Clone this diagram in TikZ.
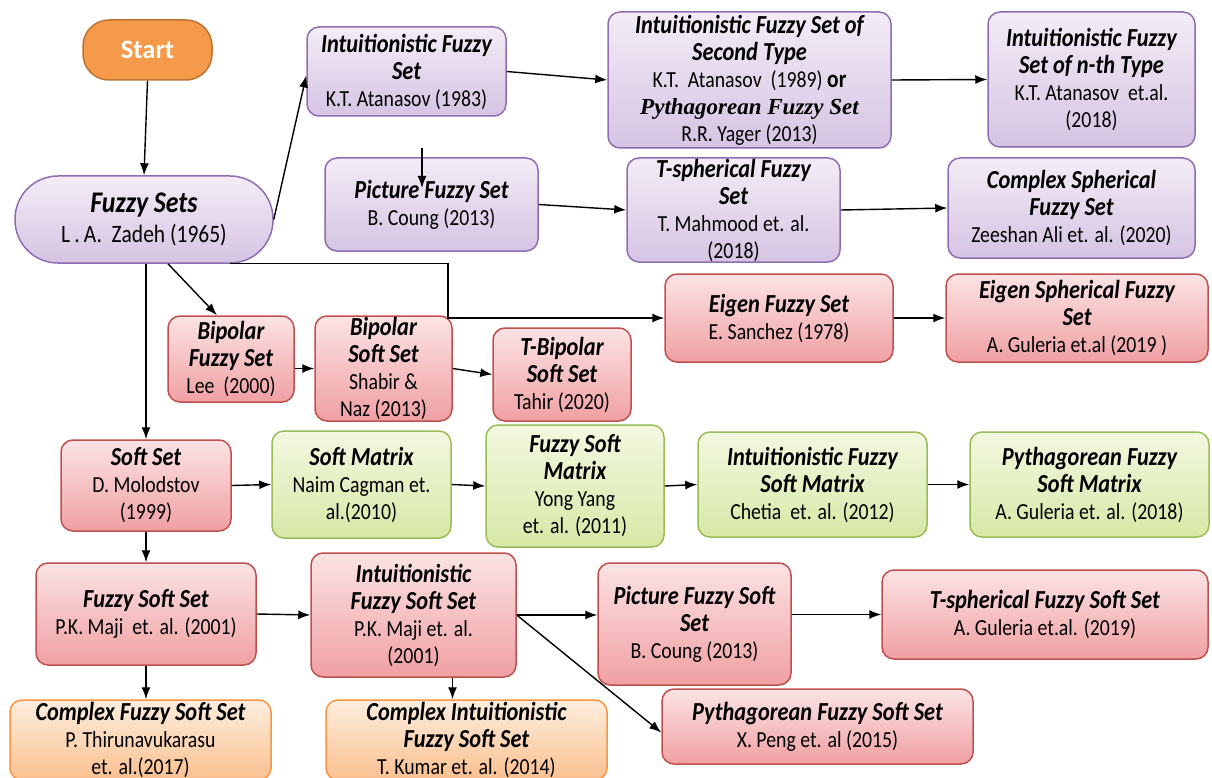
\documentclass[tikz,border=0pt]{standalone}
\usepackage{fontspec}
\usetikzlibrary{arrows.meta}
\setmainfont{Carlito}
\newfontfamily\aufam{Carlito}[FakeStretch=0.86]
\newfontfamily\tmfam{Liberation Serif}
\newcommand\ti[1]{{\fontsize{26}{27}\selectfont\bfseries\itshape #1}}
\newcommand\au{\aufam\fontsize{23}{27}\selectfont}
\definecolor{purpT}{HTML}{F3ECF6}
\definecolor{purpB}{HTML}{D5C4E3}
\definecolor{purpD}{HTML}{8F6DB3}
\definecolor{redT}{HTML}{FBE3E4}
\definecolor{redB}{HTML}{F0A0A3}
\definecolor{redD}{HTML}{C0504D}
\definecolor{grnT}{HTML}{F2F8E0}
\definecolor{grnB}{HTML}{D7E8A6}
\definecolor{grnD}{HTML}{9BBB59}
\definecolor{orgT}{HTML}{FDEEDF}
\definecolor{orgB}{HTML}{FAC08F}
\definecolor{orgD}{HTML}{F79646}
\definecolor{startF}{HTML}{F59A4A}
\definecolor{startD}{HTML}{BD7431}
\tikzset{
  box/.style={draw, rounded corners=12pt, line width=1.5pt, align=center, inner sep=0pt, font=\au},
  wh/.style 2 args={minimum width=#1pt, minimum height=#2pt},
  pbox/.style={box, draw=purpD, top color=purpT, bottom color=purpB},
  rbox/.style={box, draw=redD, top color=redT, bottom color=redB},
  gbox/.style={box, draw=grnD, top color=grnT, bottom color=grnB},
  obox/.style={box, draw=orgD, top color=orgT, bottom color=orgB},
  arr/.style={-{Latex[length=12pt,width=9pt]}, line width=1.4pt, black},
}
\begin{document}
\begin{tikzpicture}[x=1pt,y=-1pt]
\useasboundingbox[fill=white] (0,0) rectangle (1212,778);
% nodes
\node[box, draw=startD, fill=startF, rounded corners=26pt, wh={129}{60}, text=white, font=\fontsize{26.5}{27}\selectfont\bfseries] (start) at (147.5,50) {Start};
\node[pbox, rounded corners=43pt, wh={258}{87}] (fs) at (144,219.5) {{\fontsize{30}{32}\selectfont\bfseries\itshape Fuzzy Sets}\\[3pt]{\fontsize{25}{27}\selectfont L\,.\,A.\ \ Zadeh (1965)}};
\node[pbox, wh={199}{89}] (ifs) at (406.5,71.5) {\ti{Intuitionistic Fuzzy}\\\ti{Set}\\K.T. Atanasov (1983)};
\node[pbox, wh={283}{136}] (ifs2) at (749.5,80) {\ti{Intuitionistic Fuzzy Set of}\\\ti{Second Type}\\K.T.\ \ Atanasov\ \ (1989) {\fontsize{25}{27}\selectfont\bfseries or}\\{\tmfam\fontsize{23}{27}\selectfont\bfseries\itshape Pythagorean\ Fuzzy Set}\\R.R. Yager (2013)};
\node[pbox, wh={207}{135}] (ifsn) at (1091.5,79.5) {\ti{Intuitionistic Fuzzy}\\\ti{Set of n-th Type}\\K.T. Atanasov\ \ et.al.\\(2018)};
\node[pbox, wh={213}{93}] (pfs) at (431.5,204.5) {\ti{Picture Fuzzy Set}\\B. Coung (2013)};
\node[pbox, wh={213}{104}] (tsfs) at (733.5,210) {\ti{T-spherical Fuzzy}\\\ti{Set}\\T. Mahmood et. al.\\(2018)};
\node[pbox, wh={247}{100}] (csfs) at (1071.5,208) {\ti{Complex Spherical}\\\ti{Fuzzy Set}\\Zeeshan Ali et. al. (2020)};
\node[rbox, wh={228}{88}] (efs) at (779,318) {\ti{Eigen Fuzzy Set}\\E. Sanchez (1978)};
\node[rbox, wh={262}{88}] (esfs) at (1077,318) {\ti{Eigen Spherical Fuzzy}\\\ti{Set}\\A. Guleria et.al (2019 )};
\node[rbox, wh={126}{86}] (bfs) at (231,359) {\ti{Bipolar}\\\ti{Fuzzy Set}\\Lee\ \ (2000)};
\node[rbox, wh={137}{105}] (bss) at (383.5,368.5) {\ti{Bipolar}\\\ti{Soft Set}\\Shabir \&\\Naz (2013)};
\node[rbox, wh={138}{93}] (tbss) at (562,374.5) {\ti{T-Bipolar}\\\ti{Soft Set}\\Tahir (2020)};
\node[rbox, wh={170}{91}] (ss) at (146,485.5) {\ti{Soft Set}\\D. Molodstov\\(1999)};
\node[gbox, wh={179}{107}] (sm) at (361.5,484.5) {\ti{Soft Matrix}\\Naim Cagman et.\\al.(2010)};
\node[gbox, wh={178}{122}] (fsm) at (575,486) {\ti{Fuzzy Soft}\\\ti{Matrix}\\Yong Yang\\et. al. (2011)};
\node[gbox, wh={229}{105}] (ifsm) at (812.5,484.5) {\ti{Intuitionistic Fuzzy}\\\ti{Soft Matrix}\\Chetia\ \ et. al. (2012)};
\node[gbox, wh={239}{105}] (pfsm) at (1089.5,484.5) {\ti{Pythagorean Fuzzy}\\\ti{Soft Matrix}\\A. Guleria et. al. (2018)};
\node[rbox, wh={220}{102}] (fss) at (146,614) {\ti{Fuzzy Soft Set}\\P.K. Maji\ \ et. al. (2001)};
\node[rbox, wh={205}{124}] (ifss) at (413.5,615) {\ti{Intuitionistic}\\\ti{Fuzzy Soft Set}\\P.K. Maji et. al.\\(2001)};
\node[rbox, wh={193}{122}] (pfss) at (694.5,624) {\ti{Picture Fuzzy Soft}\\\ti{Set}\\B. Coung (2013)};
\node[rbox, wh={326}{89}] (tsfss) at (1045,614.5) {\ti{T-spherical Fuzzy Soft Set}\\A. Guleria et.al. (2019)};
\node[obox, wh={261}{80}] (cfss) at (140.5,740) {\ti{Complex Fuzzy Soft Set}\\P. Thirunavukarasu\\et. al.(2017)};
\node[obox, wh={281}{80}] (cifss) at (466.5,740) {\ti{Complex Intuitionistic}\\\ti{Fuzzy Soft Set}\\T. Kumar et. al. (2014)};
\node[rbox, wh={311}{75}] (pyfss) at (817.5,726.5) {\ti{Pythagorean Fuzzy Soft Set}\\X. Peng et. al (2015)};
\coordinate (pin) at (422,148);
\coordinate (pinend) at (422,188);
% connectors
\draw[arr] (start.south) -- (fs.north);
\draw[arr] (fs.east) -- ([yshift=-4pt]ifs.west);
\draw[arr] (ifs.east) -- (ifs2.west);
\draw[arr] (ifs2.east) -- (ifsn.west);
\draw[arr] (pin) -- (pinend);
\draw[arr] (pfs.east) -- (tsfs.west);
\draw[arr] (tsfs.east) -- (csfs.west);
\draw[arr] ([xshift=86pt]fs.south) -- ++(218,0) |- (efs.west);
\draw[arr] (efs.east) -- (esfs.west);
\draw[arr] ([xshift=24pt]fs.south) -- ([xshift=-14pt]bfs.north);
\draw[arr] (bfs.east |- bss.west) -- (bss.west);
\draw[arr] (bss.east) -- (tbss.west);
\draw[arr] (fs.south -| ss.north) -- (ss.north);
\draw[arr] (ss.east) -- (sm.west);
\draw[arr] (sm.east) -- (fsm.west);
\draw[arr] (fsm.east) -- (ifsm.west);
\draw[arr] (ifsm.east) -- (pfsm.west);
\draw[arr] (ss.south) -- (fss.north);
\draw[arr] (fss.east) -- (ifss.west);
\draw[arr] (ifss.east) -- (pfss.west |- ifss.east);
\draw[arr] (pfss.east |- tsfss.west) -- (tsfss.west);
\draw[arr] (ifss.east) -- ([yshift=-6pt]pyfss.west);
\draw[arr] (fss.south) -- (fss.south |- cfss.north);
\draw[arr] ([xshift=39pt]ifss.south) -- ([xshift=39pt]ifss.south |- cifss.north);
\end{tikzpicture}
\end{document}
